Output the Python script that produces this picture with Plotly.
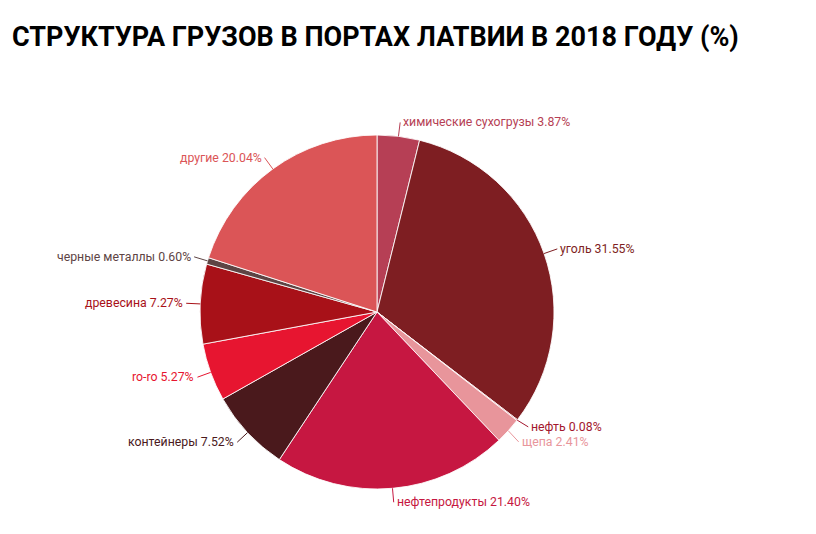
import math
import plotly.graph_objects as go

title_text = "СТРУКТУРА ГРУЗОВ В ПОРТАХ ЛАТВИИ В 2018 ГОДУ (%)"
categories = ["химические сухогрузы", "уголь", "нефть", "щепа", "нефтепродукты",
              "контейнеры", "ro-ro", "древесина", "черные металлы", "другие"]
values = [3.87, 31.55, 0.08, 2.41, 21.40, 7.52, 5.27, 7.27, 0.60, 20.04]
colors = ["#b63f55", "#7e1e22", "#a3172e", "#e8959b", "#c61741",
          "#4a191c", "#e71530", "#a81118", "#5e4444", "#db5557"]

W, H = 816, 534
OFF = 8  # page body margin
CX, CY, R = 377 - OFF, 312 - OFF, 177

fig = go.Figure()
fig.add_trace(go.Pie(
    labels=categories, values=values, sort=False, direction="clockwise", rotation=0,
    marker=dict(colors=colors, line=dict(color="rgba(255,255,255,0.85)", width=1)),
    textinfo="none", showlegend=False, hole=0,
    domain=dict(x=[(CX - R) / W, (CX + R) / W], y=[(H - CY - R) / H, (H - CY + R) / H]),
    hovertemplate="%{label}: %{value:.2f}%<extra></extra>",
))

def px(x):
    return x / W

def py(y):
    return 1 - y / H

total = sum(values)
items = []
cum = 0.0
for lab, v, c in zip(categories, values, colors):
    mid = math.radians((cum + v / 2) / total * 360)
    cum += v
    s, co = math.sin(mid), math.cos(mid)
    ex, ey = CX + R * s, CY - R * co
    bx, by = CX + (R + 14) * s, CY - (R + 14) * co
    items.append(dict(lab=lab, v=v, c=c, s=s, ex=ex, ey=ey, bx=bx, by=by, ly=by))

# simple collision avoidance per side
for side in (1, -1):
    grp = sorted([it for it in items if (it["s"] >= 0) == (side == 1)], key=lambda d: d["by"])
    for i in range(1, len(grp)):
        if grp[i]["ly"] - grp[i - 1]["ly"] < 15:
            shift = (15 - (grp[i]["ly"] - grp[i - 1]["ly"])) / 2
            grp[i - 1]["ly"] -= shift
            grp[i]["ly"] += shift

for it in items:
    d = 1 if it["s"] >= 0 else -1
    path = "M {} {} L {} {}".format(px(it["ex"]), py(it["ey"]), px(it["bx"]), py(it["ly"]))
    fig.add_shape(type="path", path=path, xref="paper", yref="paper",
                  line=dict(color=it["c"], width=1))
    fig.add_annotation(x=px(it["bx"] + d * 1), y=py(it["ly"]), xref="paper", yref="paper",
                       text="{} {:.2f}%".format(it["lab"], it["v"]), showarrow=False,
                       xanchor="left" if d > 0 else "right", yanchor="middle",
                       font=dict(family="Roboto", size=12.3, color=it["c"]))

fig.update_layout(
    width=W, height=H, margin=dict(l=0, r=0, t=0, b=0),
    paper_bgcolor="white", plot_bgcolor="white",
    title=dict(text="<b>" + title_text + "</b>", x=(12 - OFF) / W, xanchor="left",
               y=1 - (37 - OFF) / H, yanchor="middle", yref="container",
               font=dict(family="Roboto", size=27, color="#000000")),
)
fig.write_html("out.html")
